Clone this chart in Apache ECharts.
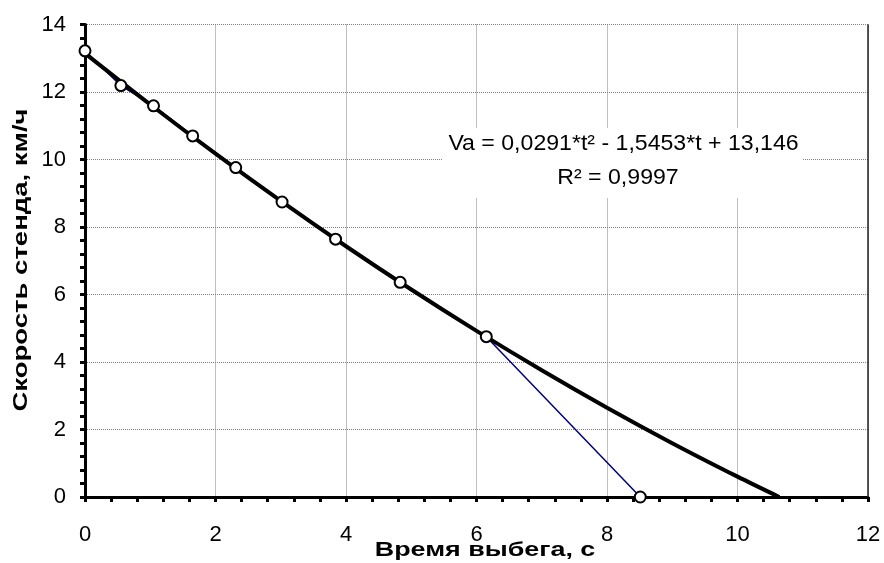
<!DOCTYPE html>
<html>
<head>
<meta charset="utf-8">
<script src="https://cdn.jsdelivr.net/npm/echarts@6/dist/echarts.min.js"></script>
<style>html,body{margin:0;padding:0;background:#fff;}#c{width:884px;height:563px;}</style>
</head>
<body>
<div id="c"></div>
<script>
// Measured points: run-down time (s) and stand speed (km/h)
const timeS = [0, 0.55, 1.05, 1.65, 2.31, 3.02, 3.84, 4.83, 6.15, 8.51];
const speedKmh = [13.22, 12.19, 11.59, 10.70, 9.76, 8.74, 7.64, 6.36, 4.75, 0];
// Polynomial trend line values (Va = 0,0291*t^2 - 1,5453*t + 13,146)
const trendT = [0, 1, 2, 3, 4, 5, 6, 7, 8, 9, 10, 10.64];
const trendV = [13.146, 11.630, 10.172, 8.772, 7.430, 6.147, 4.922, 3.755, 2.646, 1.595, 0.603, 0];
const xTicks = [0, 2, 4, 6, 8, 10, 12];
const yTicks = [0, 2, 4, 6, 8, 10, 12, 14];
const eqText = 'Va = 0,0291*t² - 1,5453*t + 13,146';
const r2Text = 'R² = 0,9997';
const xName = 'Время выбега, с';
const yName = 'Скорость стенда, км/ч';

const chart = echarts.init(document.getElementById('c'));
const font = 'Arial, "Liberation Sans", sans-serif';
const axisCommon = {
  axisLine: {show: true, onZero: false, lineStyle: {color: '#000', width: 3}},
  axisTick: {show: true, inside: false, length: 5, lineStyle: {color: '#000', width: 3}},
  minorTick: {show: true, splitNumber: 5, length: 5, lineStyle: {color: '#000', width: 3}},
  splitLine: {show: true, lineStyle: {color: '#808080', width: 1, type: [1, 1]}},
  minorSplitLine: {show: false}
};
const trendData = trendT.map((t, i) => [t, trendV[i]]);
const pts = timeS.map((t, i) => [t, speedKmh[i]]);
chart.setOption({
  animation: false,
  backgroundColor: '#fff',
  grid: {left: 85, right: 16, top: 24.5, bottom: 66, show: true, borderColor: 'transparent'},
  xAxis: Object.assign({}, axisCommon, {
    type: 'value', min: xTicks[0], max: xTicks[xTicks.length - 1], interval: 2,
    axisLabel: {margin: 27, fontFamily: font, fontSize: 22, color: '#000'}
  }),
  yAxis: Object.assign({}, axisCommon, {
    type: 'value', min: yTicks[0], max: yTicks[yTicks.length - 1], interval: 2,
    axisLabel: {margin: 19, fontFamily: font, fontSize: 22, color: '#000'}
  }),
  series: [
    {type: 'line', data: pts, symbol: 'none', z: 2,
     lineStyle: {color: '#000080', width: 1.5}},
    {type: 'line', data: trendData, symbol: 'none', smooth: 0.3, z: 3,
     lineStyle: {color: '#000', width: 4}},
    {type: 'scatter', data: pts, symbol: 'circle', symbolSize: 11, z: 4,
     itemStyle: {color: '#fff', borderColor: '#000', borderWidth: 2, opacity: 1}}
  ],
  graphic: [
    {type: 'line', shape: {x1: 868, y1: 24.5, x2: 868, y2: 497}, style: {stroke: '#222', lineWidth: 1.5}, z: 1},
    {type: 'rect', shape: {x: 442, y: 128, width: 361, height: 70}, style: {fill: '#fff'}, z: 5},
    {type: 'text', x: 623.5, y: 144, scaleX: 1.05, z: 6,
     style: {text: eqText, align: 'center', verticalAlign: 'middle', font: '22px ' + font, fill: '#000'}},
    {type: 'text', x: 618, y: 178, scaleX: 1.05, z: 6,
     style: {text: r2Text, align: 'center', verticalAlign: 'middle', font: '22px ' + font, fill: '#000'}},
    {type: 'text', x: 485, y: 550, scaleX: 1.28, z: 6,
     style: {text: xName, align: 'center', verticalAlign: 'middle', font: 'bold 21px ' + font, fill: '#000'}},
    {type: 'text', x: 21, y: 260, rotation: Math.PI / 2, scaleX: 1.31, z: 6,
     style: {text: yName, align: 'center', verticalAlign: 'middle', font: 'bold 21px ' + font, fill: '#000'}}
  ]
});
</script>
</body>
</html>
